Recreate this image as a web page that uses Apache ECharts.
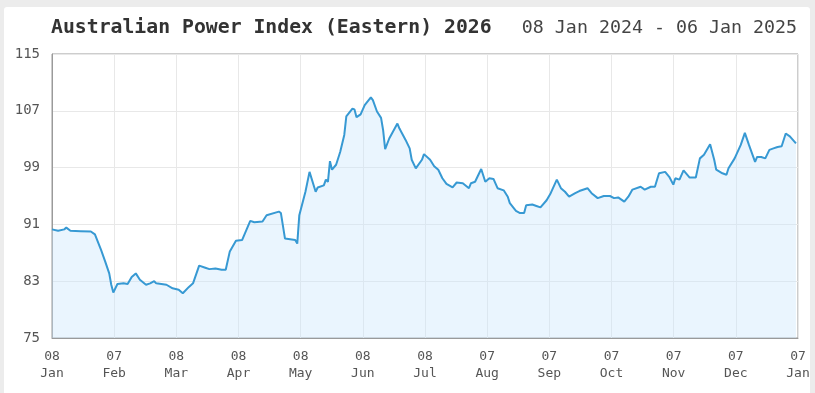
<!DOCTYPE html>
<html>
<head>
<meta charset="utf-8">
<script src="https://cdn.jsdelivr.net/npm/echarts@6/dist/echarts.min.js"></script>
<style>
  html, body { margin: 0; padding: 0; background: #ececec; }
  #card { position: absolute; left: 4px; top: 7px; width: 806px; height: 400px; background: #fff; border-radius: 3px; }
  #chart { position: absolute; left: 0; top: 0; width: 815px; height: 393px; }
</style>
</head>
<body>
<div id="card"></div>
<div id="chart"></div>
<script>
const titleText = 'Australian Power Index (Eastern) 2026';
const subtitleText = '08 Jan 2024 - 06 Jan 2025';
const axisStart = '2024-01-08';
const axisEnd = '2025-01-07';
const yTicks = [75, 83, 91, 99, 107, 115];

const dates = [
  '2024-01-08','2024-01-11','2024-01-14','2024-01-15','2024-01-17','2024-01-22','2024-01-27','2024-01-29',
  '2024-02-01','2024-02-03','2024-02-05','2024-02-06','2024-02-07','2024-02-09','2024-02-12','2024-02-14',
  '2024-02-16','2024-02-18','2024-02-20','2024-02-23','2024-02-25','2024-02-27','2024-02-28',
  '2024-03-04','2024-03-07','2024-03-10','2024-03-12','2024-03-15','2024-03-17','2024-03-20','2024-03-23',
  '2024-03-25','2024-03-28','2024-03-31',
  '2024-04-02','2024-04-04','2024-04-07','2024-04-10','2024-04-14','2024-04-16','2024-04-20','2024-04-22',
  '2024-04-28','2024-04-29',
  '2024-05-01','2024-05-06','2024-05-07','2024-05-08','2024-05-11','2024-05-13','2024-05-16','2024-05-17',
  '2024-05-20','2024-05-21','2024-05-22','2024-05-23','2024-05-24','2024-05-26','2024-05-28','2024-05-30',
  '2024-05-31',
  '2024-06-03','2024-06-04','2024-06-05','2024-06-07','2024-06-09','2024-06-12','2024-06-13','2024-06-15',
  '2024-06-17','2024-06-18','2024-06-19','2024-06-21','2024-06-25','2024-06-26','2024-06-29',
  '2024-07-01','2024-07-02','2024-07-04','2024-07-07','2024-07-08','2024-07-11','2024-07-13','2024-07-15',
  '2024-07-17','2024-07-19','2024-07-22','2024-07-24','2024-07-27','2024-07-30','2024-07-31',
  '2024-08-02','2024-08-05','2024-08-07','2024-08-09','2024-08-11','2024-08-13','2024-08-16','2024-08-18',
  '2024-08-19','2024-08-22','2024-08-24','2024-08-26','2024-08-27','2024-08-30',
  '2024-09-01','2024-09-03','2024-09-06','2024-09-08','2024-09-11','2024-09-13','2024-09-15','2024-09-17',
  '2024-09-20','2024-09-22','2024-09-26','2024-09-28',
  '2024-10-01','2024-10-04','2024-10-07','2024-10-09','2024-10-11','2024-10-14','2024-10-16','2024-10-18',
  '2024-10-22','2024-10-24','2024-10-27','2024-10-29','2024-10-31',
  '2024-11-03','2024-11-05','2024-11-07','2024-11-08','2024-11-10','2024-11-12','2024-11-15','2024-11-18',
  '2024-11-20','2024-11-22','2024-11-25','2024-11-27','2024-11-28',
  '2024-12-01','2024-12-03','2024-12-04','2024-12-07','2024-12-10','2024-12-12','2024-12-14','2024-12-17',
  '2024-12-18','2024-12-20','2024-12-22','2024-12-24','2024-12-26','2024-12-28','2024-12-30',
  '2025-01-01','2025-01-03','2025-01-06'
];

const values = [
  90.3, 90.1, 90.3, 90.55, 90.1, 90.05, 90.0, 89.6,
  87.4, 85.8, 84.1, 82.5, 81.4, 82.6, 82.7, 82.6,
  83.6, 84.1, 83.2, 82.5, 82.7, 83.0, 82.7,
  82.5, 82.0, 81.8, 81.3, 82.2, 82.7, 85.2, 84.9,
  84.7, 84.8, 84.6,
  84.6, 87.2, 88.7, 88.8, 91.5, 91.3, 91.4, 92.3,
  92.8, 92.6,
  89.0, 88.8, 88.3, 92.3, 95.6, 98.4, 95.6, 96.2,
  96.5, 97.3, 97.0, 99.9, 98.7, 99.4, 101.2, 103.6,
  106.2,
  107.3, 107.2, 106.1, 106.5, 107.8, 108.9, 108.5, 106.9,
  106.0, 104.3, 101.6, 103.1, 105.2, 104.5, 102.9,
  101.7, 100.1, 98.9, 100.1, 100.9, 100.1, 99.2, 98.7,
  97.5, 96.7, 96.2, 96.9, 96.8, 96.1, 96.8,
  97.0, 98.8, 97.0, 97.5, 97.4, 96.1, 95.8, 94.9,
  94.0, 92.9, 92.6, 92.6, 93.7, 93.8,
  93.6, 93.4, 94.4, 95.4, 97.3, 96.1, 95.6, 94.9,
  95.4, 95.7, 96.1, 95.4,
  94.7, 95.0, 95.0, 94.7, 94.8, 94.2, 94.9, 95.9,
  96.3, 95.9, 96.3, 96.3, 98.2,
  98.4, 97.7, 96.6, 97.5, 97.3, 98.6, 97.6, 97.6,
  100.3, 100.8, 102.3, 100.1, 98.7,
  98.2, 98.0, 98.9, 100.3, 102.2, 103.9, 102.2, 99.8,
  100.5, 100.5, 100.3, 101.5, 101.7, 101.9, 102.0,
  103.8, 103.4, 102.4
];

const MONTHS = ['Jan','Feb','Mar','Apr','May','Jun','Jul','Aug','Sep','Oct','Nov','Dec'];
const DAY = 86400000;
const t0 = Date.parse(axisStart + 'T00:00:00Z');
const t1 = Date.parse(axisEnd + 'T00:00:00Z');
const span = (t1 - t0) / DAY;
const toDay = s => (Date.parse(s + 'T00:00:00Z') - t0) / DAY;
const seriesData = dates.map((d, i) => [toDay(d), values[i]]);

const font = '"DejaVu Sans Mono", monospace';
const chart = echarts.init(document.getElementById('chart'), null, { renderer: 'canvas' });
chart.setOption({
  backgroundColor: 'transparent',
  animation: false,
  title: [
    { text: titleText, left: 51, top: 18, padding: 0,
      textStyle: { fontFamily: font, fontSize: 19.8, fontWeight: 'bold', color: '#333' } },
    { text: subtitleText, right: 18, top: 19, padding: 0,
      textStyle: { fontFamily: font, fontSize: 18.3, fontWeight: 'normal', color: '#444' } }
  ],
  grid: { left: 52, right: 17, top: 54, bottom: 55, show: true, borderColor: '#9a9a9a', borderWidth: 1, backgroundColor: 'transparent' },
  xAxis: {
    type: 'value', min: 0, max: span, interval: span / 12,
    axisLine: { show: true, lineStyle: { color: '#9a9a9a' } },
    axisTick: { show: false },
    splitLine: { show: true, lineStyle: { color: '#e8e8e8', width: 1 } },
    axisLabel: {
      fontFamily: font, fontSize: 13, color: '#555', margin: 10, lineHeight: 17,
      formatter: v => {
        const d = new Date(t0 + Math.floor(v + 1e-6) * DAY);
        const dd = String(d.getUTCDate()).padStart(2, '0');
        return dd + '\n' + MONTHS[d.getUTCMonth()];
      }
    }
  },
  yAxis: {
    type: 'value', min: yTicks[0], max: yTicks[yTicks.length - 1], interval: yTicks[1] - yTicks[0],
    axisLine: { show: true, lineStyle: { color: '#9a9a9a' } },
    axisTick: { show: false },
    splitLine: { show: true, lineStyle: { color: '#e8e8e8', width: 1 } },
    axisLabel: { fontFamily: font, fontSize: 14, color: '#555', margin: 12 }
  },
  series: [{
    type: 'line',
    data: seriesData,
    showSymbol: false,
    smooth: false,
    lineStyle: { color: '#3799d3', width: 2 },
    itemStyle: { color: '#3799d3' },
    areaStyle: { color: 'rgba(200,228,252,0.55)', origin: 'start' }
  }]
});
</script>
</body>
</html>
